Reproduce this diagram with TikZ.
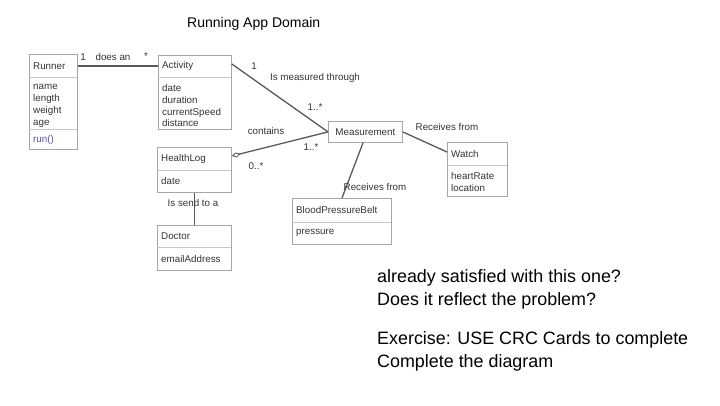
\documentclass[tikz,border=0pt]{standalone}
\usepackage{fontspec}
\setmainfont{Liberation Sans}
\usetikzlibrary{arrows.meta}

\begin{document}
\begin{tikzpicture}[x=1pt,y=-1pt,
  cls/.style={draw=gray!70, line width=0.8pt, anchor=north west, inner sep=0pt},
  sep/.style={draw=gray!45, line width=0.6pt},
  assoc/.style={draw=black!65, line width=1.3pt},
  lbl/.style={inner sep=0pt, text=black!80, font=\fontsize{9.8}{11.7}\selectfont},
  attr/.style={lbl, anchor=north west, align=left},
  big/.style={inner sep=0pt, anchor=base west, font=\fontsize{17.9}{23}\selectfont}]
\useasboundingbox (0,0) rectangle (720,405);
\node[inner sep=0pt, anchor=base west, font=\fontsize{14}{16}\selectfont] (title) at (187,27) {Running App Domain};

\node[cls, minimum width=48pt, minimum height=95pt] (runner) at (29,54) {};
\draw[sep] (29,77) -- (77,77);
\draw[sep] (29,129) -- (77,129);
\node[lbl, anchor=west] (runnername) at (33,66) {Runner};
\node[attr] (runnerattr) at (33,84.5) {name\\length\\weight\\age};
\node[lbl, anchor=west, text=blue!35!gray] (runnerop) at (33,140) {run()};

\node[cls, minimum width=73pt, minimum height=74pt] (activity) at (158,55) {};
\draw[sep] (158,77) -- (231,77);
\node[lbl, anchor=west] (activityname) at (162,66) {Activity};
\node[attr] (activityattr) at (162,84.5) {date\\duration\\currentSpeed\\distance};

\node[cls, minimum width=74pt, minimum height=45pt] (healthlog) at (157,147) {};
\draw[sep] (157,170) -- (231,170);
\node[lbl, anchor=west] (healthlogname) at (161,159) {HealthLog};
\node[lbl, anchor=west] (healthlogattr) at (161,181) {date};

\node[cls, minimum width=74pt, minimum height=45pt] (doctor) at (157,225) {};
\draw[sep] (157,247) -- (231,247);
\node[lbl, anchor=west] (doctorname) at (161,236) {Doctor};
\node[lbl, anchor=west] (doctorattr) at (161,259) {emailAddress};

\node[cls, minimum width=74pt, minimum height=21pt] (measure) at (328,121) {};
\node[lbl] (measurename) at (measure.center) {Measurement};

\node[cls, minimum width=60pt, minimum height=54pt] (watch) at (447,142) {};
\draw[sep] (447,165) -- (507,165);
\node[lbl, anchor=west] (watchname) at (451,153.5) {Watch};
\node[attr] (watchattr) at (451,172.5) {heartRate\\location};

\node[cls, minimum width=99pt, minimum height=46pt] (belt) at (292,198) {};
\draw[sep] (292,222) -- (391,222);
\node[lbl, anchor=west] (beltname) at (296,210) {BloodPressureBelt};
\node[lbl, anchor=west] (beltattr) at (296,233) {pressure};

\draw[assoc] ([yshift=-12pt]runner.north east) -- ([yshift=-11pt]activity.north west);
\draw[assoc] ([yshift=-9pt]activity.north east) -- (measure.west);
\draw[assoc, {Diamond[open, length=9pt, width=5pt, line width=0.8pt]}-] ([yshift=-9pt]healthlog.north east) -- (measure.west);
\draw[assoc, line width=1pt] (healthlog.south) -- (doctor.north);
\draw[assoc] (measure.east) -- ([yshift=-10pt]watch.north west);
\draw[assoc] ([xshift=35pt]measure.south west) -- ([xshift=50pt]belt.north west);

\node[lbl] (doesone) at (83,57) {1};
\node[lbl] (doeslbl) at (113,57) {does an};
\node[lbl] (doesmany) at (146,56) {*};
\node[lbl] (measone) at (254,66) {1};
\node[lbl] (measlbl) at (315,78) {Is measured through};
\node[lbl] (measmany) at (315,107) {1..*};
\node[lbl] (containslbl) at (266,131) {contains};
\node[lbl] (containsmany) at (311,147) {1..*};
\node[lbl] (containszero) at (256,166) {0..*};
\node[lbl] (sendlbl) at (193,203) {Is send to a};
\node[lbl] (watchlbl) at (447,127) {Receives from};
\node[lbl] (beltlbl) at (375,187) {Receives from};

\node[big] (lineone) at (377,282) {already satisfied with this one?};
\node[big] (linetwo) at (377,305) {Does it reflect the problem?};
\node[big] (linethree) at (377,344) {Exercise: USE CRC Cards to complete};
\node[big] (linefour) at (377,367) {Complete the diagram};
\end{tikzpicture}
\end{document}
